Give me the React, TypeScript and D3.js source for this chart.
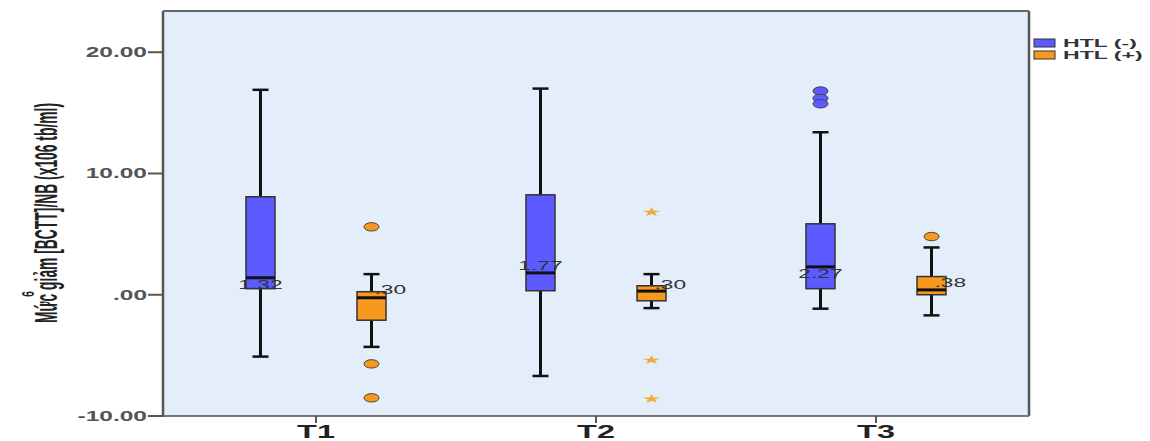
import React from 'react';
import * as d3 from 'd3';

const categories = ['T1', 'T2', 'T3'];
const groups = ['HTL (-)', 'HTL (+)'];
const yTicks = [-10, 0, 10, 20];
const yTickLabels = ['-10.00', '.00', '10.00', '20.00'];

// HTL (-)
const negLow = [-5.1, -6.7, -1.15];
const negQ1 = [0.5, 0.33, 0.5];
const negMedian = [1.4, 1.8, 2.3];
const negQ3 = [8.08, 8.24, 5.85];
const negHigh = [16.9, 17.0, 13.4];
const negOutliers = [[], [], [16.8, 16.2, 15.75]];
const negExtremes = [[], [], []];
const negLabels = ['1.32', '1.77', '2.27'];
const negLabelAt = [0.82, 2.39, 1.73];

// HTL (+)
const posLow = [-4.3, -1.1, -1.7];
const posQ1 = [-2.1, -0.5, 0.0];
const posMedian = [-0.25, 0.3, 0.4];
const posQ3 = [0.25, 0.74, 1.5];
const posHigh = [1.7, 1.7, 3.9];
const posOutliers = [[5.6, -5.7, -8.5], [], [4.8]];
const posExtremes = [[], [6.8, -5.4, -8.6], []];
const posLabels = ['.30', '.30', '.38'];
const posLabelAt = [0.41, 0.82, 0.99];

const W = 1150;
const H = 441;
const plot = { left: 163, right: 1029, top: 11, bottom: 416 };
const SX = 1.75; // the picture is stretched horizontally
const colors = ['#5b5bff', '#f8981d'];
const starColor = '#f7a838';
const font = 'Arial, "Liberation Sans", sans-serif';

const series = [
  { low: negLow, q1: negQ1, med: negMedian, q3: negQ3, high: negHigh, out: negOutliers, ext: negExtremes, labels: negLabels, labelAt: negLabelAt },
  { low: posLow, q1: posQ1, med: posMedian, q3: posQ3, high: posHigh, out: posOutliers, ext: posExtremes, labels: posLabels, labelAt: posLabelAt },
];

const Stretched = ({ x, y, anchor = 'start', size, weight = 'normal', fill = '#333', sx = SX, children }: any) => (
  <text
    transform={`translate(${x},${y}) scale(${sx},1)`}
    textAnchor={anchor}
    fontSize={size}
    fontWeight={weight}
    fontFamily={font}
    fill={fill}
  >
    {children}
  </text>
);

export default function App() {
  const y = d3.scaleLinear().domain([-10, 23.4]).range([plot.bottom, plot.top]);
  const x = d3.scaleBand().domain(categories).range([plot.left, plot.right]).paddingOuter(0.0464).paddingInner(0);
  const xs = d3.scalePoint().domain(groups).range([0, x.bandwidth()]).padding(0.761);
  const boxW = 29;
  const capW = 16;
  const star = d3.symbol(d3.symbolStar, 34)();

  return (
    <svg width={W} height={H} style={{ position: 'absolute', left: 0, top: 0, background: '#fff' }}>
      <rect x={plot.left} y={plot.top} width={plot.right - plot.left} height={plot.bottom - plot.top} fill="#e3eefa" />

      {categories.map((c, i) => (
        <g key={c}>
          {series.map((s, g) => {
            const cx = (x(c) as number) + (xs(groups[g]) as number);
            return (
              <g key={g}>
                <line x1={cx} x2={cx} y1={y(s.high[i])} y2={y(s.low[i])} stroke="#111" strokeWidth={3} />
                <line x1={cx - capW / 2} x2={cx + capW / 2} y1={y(s.high[i])} y2={y(s.high[i])} stroke="#111" strokeWidth={2.5} />
                <line x1={cx - capW / 2} x2={cx + capW / 2} y1={y(s.low[i])} y2={y(s.low[i])} stroke="#111" strokeWidth={2.5} />
                <rect
                  x={cx - boxW / 2}
                  y={y(s.q3[i])}
                  width={boxW}
                  height={y(s.q1[i]) - y(s.q3[i])}
                  fill={colors[g]}
                  stroke="#333"
                  strokeWidth={1.5}
                />
                <line x1={cx - boxW / 2} x2={cx + boxW / 2} y1={y(s.med[i])} y2={y(s.med[i])} stroke="#111" strokeWidth={3} />
                {s.out[i].map((v, k) => (
                  <ellipse key={k} cx={cx} cy={y(v)} rx={7.5} ry={4.2} fill={colors[g]} stroke="#444" strokeWidth={1} />
                ))}
                {s.ext[i].map((v, k) => (
                  <path key={k} d={star as string} transform={`translate(${cx},${y(v)}) scale(1.7,0.85)`} fill={starColor} />
                ))}
                <Stretched
                  x={g === 0 ? cx : cx + 3}
                  y={y(s.labelAt[i]) + 4.5}
                  anchor={g === 0 ? 'middle' : 'start'}
                  size={13}
                  fill="#333"
                >
                  {s.labels[i]}
                </Stretched>
              </g>
            );
          })}
        </g>
      ))}

      {/* frame */}
      <line x1={plot.left} x2={plot.right} y1={plot.top} y2={plot.top} stroke="#666" strokeWidth={2} />
      <line x1={plot.right} x2={plot.right} y1={plot.top} y2={plot.bottom} stroke="#555" strokeWidth={2.5} />
      <line x1={plot.left} x2={plot.right} y1={plot.bottom} y2={plot.bottom} stroke="#777" strokeWidth={2} />
      <line x1={plot.left} x2={plot.left} y1={plot.top} y2={plot.bottom + 1} stroke="#555" strokeWidth={2.5} />

      {/* y axis */}
      {yTicks.map((t, i) => (
        <g key={t}>
          <line x1={plot.left - 15} x2={plot.left} y1={y(t)} y2={y(t)} stroke="#555" strokeWidth={2} />
          <Stretched x={plot.left - 16} y={y(t) + 5} anchor="end" size={14} weight="bold" fill="#555">
            {yTickLabels[i]}
          </Stretched>
        </g>
      ))}

      {/* x axis */}
      {categories.map((c) => {
        const cx = (x(c) as number) + x.bandwidth() / 2;
        return (
          <g key={c}>
            <line x1={cx} x2={cx} y1={plot.bottom} y2={plot.bottom + 7} stroke="#555" strokeWidth={2} />
            <Stretched x={cx} y={438} anchor="middle" size={18} weight="bold" fill="#222" sx={1.8}>
              {c}
            </Stretched>
          </g>
        );
      })}

      {/* y title */}
      <text
        transform="translate(46,213) rotate(-90) scale(1,2.0)"
        textAnchor="middle"
        dominantBaseline="central"
        fontSize={15.5}
        fontWeight="bold"
        fontFamily={font}
        fill="#222"
        textLength={220}
        lengthAdjust="spacingAndGlyphs"
      >
        Mức giảm [BCTT]/NB (x106 tb/ml)
      </text>
      <text
        transform="translate(29,294) rotate(-90) scale(1,1.6)"
        textAnchor="middle"
        dominantBaseline="central"
        fontSize={10}
        fontWeight="bold"
        fontFamily={font}
        fill="#222"
      >
        6
      </text>

      {/* legend */}
      {groups.map((gname, g) => (
        <g key={gname}>
          <rect x={1034} y={39 + g * 12} width={21} height={8} fill={colors[g]} stroke="#333" strokeWidth={1} />
          <Stretched x={1063} y={47 + g * 12} size={11} weight="bold" fill="#333" sx={2.1}>
            {gname}
          </Stretched>
        </g>
      ))}
    </svg>
  );
}
